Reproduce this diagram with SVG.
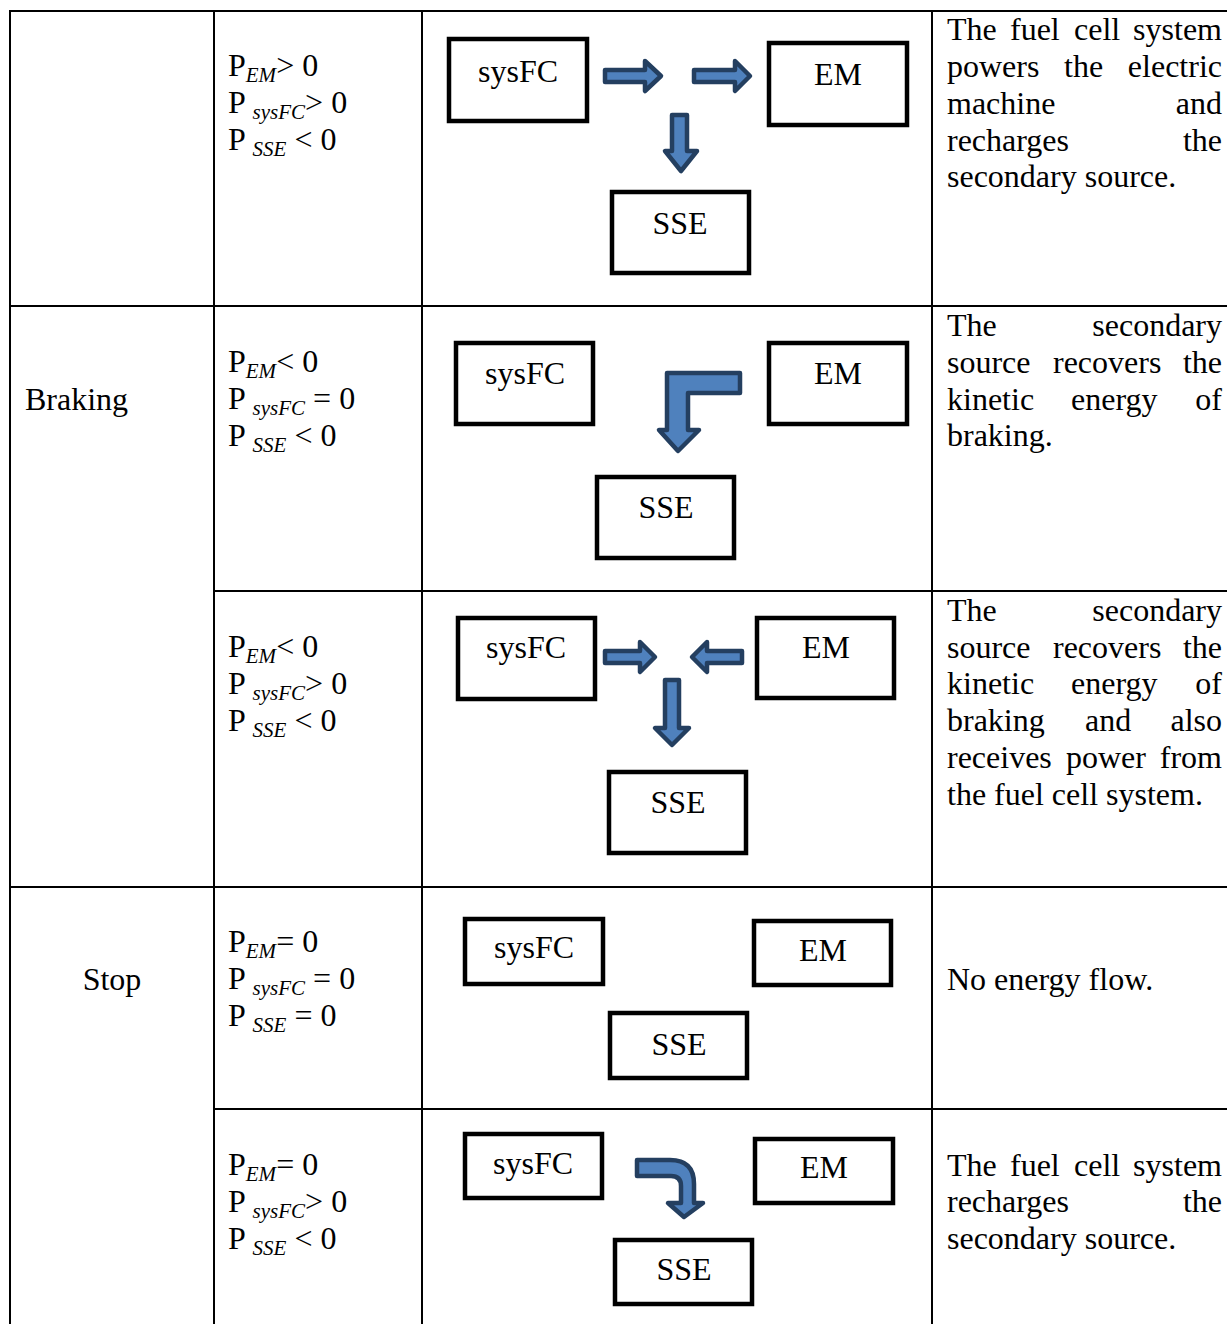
<svg xmlns="http://www.w3.org/2000/svg" width="1227" height="1324" viewBox="0 0 1227 1324">
<style>
text{font-family:"Liberation Serif","Times New Roman",serif;font-size:32px;fill:#000}
.sub{font-size:21px;font-style:italic}
.c{text-anchor:middle}
.e{text-anchor:end}
.grid line{stroke:#000;stroke-width:2}
.box{fill:#fff;stroke:#000;stroke-width:4.5}
.arr{fill:#4F81BD;stroke:#243F60;stroke-width:4.5;stroke-linejoin:round}
</style>
<rect width="1227" height="1324" fill="#fff"/>
<g id="table" class="grid">
<line x1="10" y1="11" x2="1227" y2="11"/>
<line x1="10" y1="10" x2="10" y2="1324"/>
<line x1="214" y1="10" x2="214" y2="1324"/>
<line x1="422" y1="10" x2="422" y2="1324"/>
<line x1="932" y1="10" x2="932" y2="1324"/>
<line x1="10" y1="306" x2="1227" y2="306"/>
<line x1="214" y1="591" x2="1227" y2="591"/>
<line x1="10" y1="887" x2="1227" y2="887"/>
<line x1="214" y1="1109" x2="1227" y2="1109"/>
</g>
<g id="mode-labels">
<text x="25" y="410">Braking</text>
<text x="112" y="990" class="c">Stop</text>
</g>
<g id="conditions">
<text x="228" y="76">P<tspan class="sub" dy="6">EM</tspan><tspan dy="-6">&gt; 0</tspan></text>
<text x="228" y="113">P <tspan class="sub" dy="6">sysFC</tspan><tspan dy="-6">&gt; 0</tspan></text>
<text x="228" y="150">P <tspan class="sub" dy="6">SSE</tspan><tspan dy="-6"> &lt; 0</tspan></text>
<text x="228" y="372">P<tspan class="sub" dy="6">EM</tspan><tspan dy="-6">&lt; 0</tspan></text>
<text x="228" y="409">P <tspan class="sub" dy="6">sysFC</tspan><tspan dy="-6"> = 0</tspan></text>
<text x="228" y="446">P <tspan class="sub" dy="6">SSE</tspan><tspan dy="-6"> &lt; 0</tspan></text>
<text x="228" y="657">P<tspan class="sub" dy="6">EM</tspan><tspan dy="-6">&lt; 0</tspan></text>
<text x="228" y="694">P <tspan class="sub" dy="6">sysFC</tspan><tspan dy="-6">&gt; 0</tspan></text>
<text x="228" y="731">P <tspan class="sub" dy="6">SSE</tspan><tspan dy="-6"> &lt; 0</tspan></text>
<text x="228" y="952">P<tspan class="sub" dy="6">EM</tspan><tspan dy="-6">= 0</tspan></text>
<text x="228" y="989">P <tspan class="sub" dy="6">sysFC</tspan><tspan dy="-6"> = 0</tspan></text>
<text x="228" y="1026">P <tspan class="sub" dy="6">SSE</tspan><tspan dy="-6"> = 0</tspan></text>
<text x="228" y="1175">P<tspan class="sub" dy="6">EM</tspan><tspan dy="-6">= 0</tspan></text>
<text x="228" y="1212">P <tspan class="sub" dy="6">sysFC</tspan><tspan dy="-6">&gt; 0</tspan></text>
<text x="228" y="1249">P <tspan class="sub" dy="6">SSE</tspan><tspan dy="-6"> &lt; 0</tspan></text>
</g>
<g id="r1-sysFC"><rect class="box" x="449" y="39" width="138" height="82"/><text x="518" y="82" class="c">sysFC</text></g>
<g id="r1-EM"><rect class="box" x="769" y="43" width="138" height="82"/><text x="838" y="85" class="c">EM</text></g>
<g id="r1-SSE"><rect class="box" x="612" y="192" width="137" height="81"/><text x="680" y="234" class="c">SSE</text></g>
<g id="r2-sysFC"><rect class="box" x="456" y="343" width="137" height="81"/><text x="525" y="384" class="c">sysFC</text></g>
<g id="r2-EM"><rect class="box" x="769" y="343" width="138" height="81"/><text x="838" y="384" class="c">EM</text></g>
<g id="r2-SSE"><rect class="box" x="597" y="477" width="137" height="81"/><text x="666" y="518" class="c">SSE</text></g>
<g id="r3-sysFC"><rect class="box" x="458" y="618" width="137" height="81"/><text x="526" y="658" class="c">sysFC</text></g>
<g id="r3-EM"><rect class="box" x="757" y="618" width="137" height="80"/><text x="826" y="658" class="c">EM</text></g>
<g id="r3-SSE"><rect class="box" x="609" y="772" width="137" height="81"/><text x="678" y="813" class="c">SSE</text></g>
<g id="r4-sysFC"><rect class="box" x="465" y="919" width="138" height="65"/><text x="534" y="958" class="c">sysFC</text></g>
<g id="r4-EM"><rect class="box" x="754" y="921" width="137" height="64"/><text x="823" y="961" class="c">EM</text></g>
<g id="r4-SSE"><rect class="box" x="610" y="1013" width="137" height="65"/><text x="679" y="1055" class="c">SSE</text></g>
<g id="r5-sysFC"><rect class="box" x="465" y="1134" width="137" height="64"/><text x="533" y="1174" class="c">sysFC</text></g>
<g id="r5-EM"><rect class="box" x="755" y="1139" width="138" height="64"/><text x="824" y="1178" class="c">EM</text></g>
<g id="r5-SSE"><rect class="box" x="615" y="1240" width="137" height="64"/><text x="684" y="1280" class="c">SSE</text></g>
<g id="connectors">
<path class="arr" d="M605,70 H645 V61 L661,76 L645,91 V82 H605 Z"/>
<path class="arr" d="M694,70 H735 V61 L750,76 L735,91 V82 H694 Z"/>
<path class="arr" d="M672,115 H687 V151 H697 L681,171 L665,151 H672 Z"/>
<path class="arr" d="M667,373 H740 V393 H688 V430 H699 L678,451 L659,430 H667 Z"/>
<path class="arr" d="M605,651 H640 V642 L655,657 L640,672 V663 H605 Z"/>
<path class="arr" d="M742,651 H707 V642 L692,657 L707,672 V663 H742 Z"/>
<path class="arr" d="M665,680 H679 V728 H689 L672,745 L655,728 H665 Z"/>
<path class="arr" d="M637,1160 H670 Q694,1160 694,1184 V1203 H703 L684,1217 L668,1203 H681 V1186 Q681,1176 671,1176 H637 Z"/>
</g>
<g id="descriptions">
<text x="947" y="40">The</text><text x="1010" y="40">fuel</text><text x="1074" y="40">cell</text><text x="1222" y="40" class="e">system</text>
<text x="947" y="77">powers</text><text x="1064" y="77">the</text><text x="1222" y="77" class="e">electric</text>
<text x="947" y="114">machine</text><text x="1222" y="114" class="e">and</text>
<text x="947" y="151">recharges</text><text x="1222" y="151" class="e">the</text>
<text x="947" y="187">secondary source.</text>
<text x="947" y="336">The</text><text x="1222" y="336" class="e">secondary</text>
<text x="947" y="373">source</text><text x="1053" y="373">recovers</text><text x="1222" y="373" class="e">the</text>
<text x="947" y="410">kinetic</text><text x="1071" y="410">energy</text><text x="1222" y="410" class="e">of</text>
<text x="947" y="446">braking.</text>
<text x="947" y="621">The</text><text x="1222" y="621" class="e">secondary</text>
<text x="947" y="658">source</text><text x="1053" y="658">recovers</text><text x="1222" y="658" class="e">the</text>
<text x="947" y="694">kinetic</text><text x="1071" y="694">energy</text><text x="1222" y="694" class="e">of</text>
<text x="947" y="731">braking</text><text x="1085" y="731">and</text><text x="1222" y="731" class="e">also</text>
<text x="947" y="768">receives</text><text x="1066" y="768">power</text><text x="1222" y="768" class="e">from</text>
<text x="947" y="805">the fuel cell system.</text>
<text x="947" y="990">No energy flow.</text>
<text x="947" y="1176">The</text><text x="1010" y="1176">fuel</text><text x="1074" y="1176">cell</text><text x="1222" y="1176" class="e">system</text>
<text x="947" y="1212">recharges</text><text x="1222" y="1212" class="e">the</text>
<text x="947" y="1249">secondary source.</text>
</g>
</svg>
